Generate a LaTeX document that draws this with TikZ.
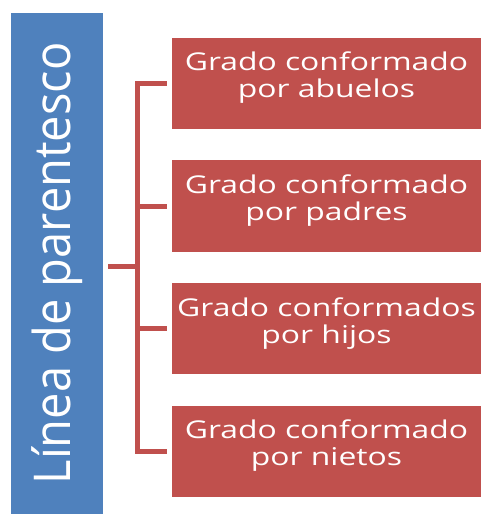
\documentclass[tikz,border=0pt]{standalone}
\usepackage{graphicx}
\usepackage{fontspec}
\setmainfont{Open Sans}
\newfontfamily\boxfont[FakeStretch=1.3]{Open Sans}
\usetikzlibrary{positioning}

\definecolor{lineablue}{HTML}{4F81BD}
\definecolor{gradored}{HTML}{C0504D}

\tikzset{
	lineabox/.style={fill=lineablue, text=white, rotate=90, minimum width=501pt, minimum height=92pt, inner sep=0pt, font=\fontsize{47}{50}\selectfont},
	gradobox/.style={fill=gradored, text=white, minimum width=309pt, minimum height=91.5pt, inner sep=0pt, align=center, font=\boxfont\fontsize{24.5}{27}\selectfont, execute at end node={\rule[-17pt]{0pt}{17pt}}},
	bracket/.style={draw=gradored, line width=5pt},
}

\begin{document}
\begin{tikzpicture}[x=1pt,y=1pt]
	\useasboundingbox (0,0) rectangle (482,514);
	
	\node[lineabox] (linea) at (57,250.5) {\scalebox{1}[1.08]{Línea de parentesco}};
	
	\node[gradobox] (abuelos) at (326.5,430.5) {Grado conformado\\por abuelos};
	\node[gradobox, below=30.7pt of abuelos] (padres) {Grado conformado\\por padres};
	\node[gradobox, below=30.7pt of padres] (hijos) {Grado conformados\\por hijos};
	\node[gradobox, below=30.7pt of hijos] (nietos) {Grado conformado\\por nietos};
	
	% bracket
	\coordinate (spine) at (137.5,247.5);
	\draw[bracket] ([xshift=-5pt]abuelos.west) -| (spine |- nietos.west) -- ([xshift=-5pt]nietos.west);
	\draw[bracket] ([xshift=-5pt]padres.west) -- (spine |- padres.west);
	\draw[bracket] ([xshift=-5pt]hijos.west) -- (spine |- hijos.west);
	\draw[bracket] ([xshift=5pt]linea.south |- spine) -- (spine);
\end{tikzpicture}
\end{document}
